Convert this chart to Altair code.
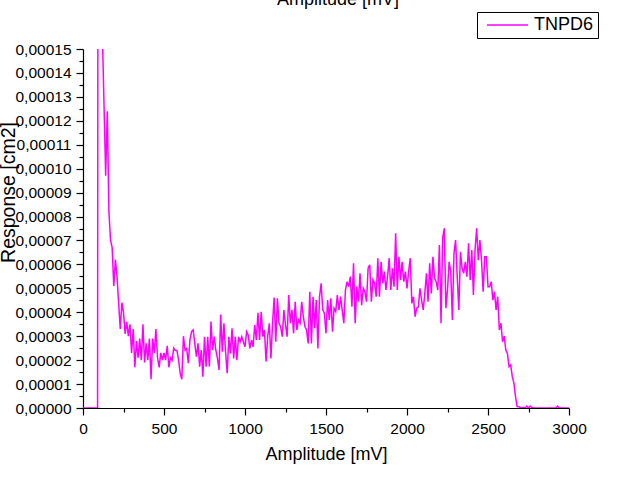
import altair as alt
import pandas as pd

series_name = "TNPD6"
top_title = "Amplitude [mV]"

# Response in units of 1e-5 cm2, sampled every 10 mV from 0 to 3000 mV
response_e5 = [
    0, 0, 0, 0, 0, 0, 0, 0, 0, 0,
    90, 30, 15.5, 12.6, 9.7, 12.4, 8.2, 7.0, 6.7, 5.1,
    6.2, 5.5, 4.4, 3.3, 4.4, 4.0, 3.1, 3.6, 3.0, 3.5,
    2.3, 3.3, 1.7, 2.8, 2.1, 2.9, 2.0, 3.5, 1.9, 2.7,
    2.0, 2.9, 1.2, 2.9, 2.3, 3.3, 2.1, 1.7, 2.3, 2.0,
    2.3, 2.0, 2.6, 1.7, 2.1, 2.0, 2.5, 2.4, 2.4, 2.0,
    1.45, 1.2, 3.0, 2.42, 2.49, 1.87, 2.84, 3.19, 3.26, 2.70,
    2.14, 2.70, 1.73, 2.42, 1.31, 2.98, 1.73, 2.98, 1.73, 3.61,
    2.42, 2.98, 2.42, 2.07, 1.59, 3.91, 2.35, 3.54, 2.35, 1.45,
    2.98, 2.28, 3.33, 2.07, 2.98, 2.0, 2.98, 2.77, 2.98, 2.77,
    2.56, 3.19, 3.05, 2.49, 2.84, 2.56, 3.47, 2.84, 3.98, 2.84,
    4.02, 2.98, 3.26, 1.94, 2.98, 3.54, 2.07, 3.54, 4.62, 2.77,
    4.58, 3.54, 3.40, 2.98, 4.09, 3.47, 2.98, 4.72, 3.54, 4.10,
    3.12, 4.44, 3.26, 3.68, 3.54, 4.44, 3.82, 3.40, 3.26, 2.70,
    4.86, 2.70, 4.65, 3.33, 4.51, 2.49, 4.65, 5.21, 4.10, 3.96,
    3.12, 4.51, 3.68, 4.58, 3.19, 4.17, 4.03, 4.72, 4.10, 4.65,
    4.10, 3.54, 4.93, 5.28, 5.07, 5.49, 4.23, 6.05, 3.54, 5.07,
    4.44, 5.63, 4.30, 5.0, 4.86, 4.44, 5.84, 5.98, 4.44, 5.35,
    5.21, 4.65, 6.26, 4.65, 6.11, 5.21, 5.70, 4.93, 5.49, 6.26,
    4.93, 5.84, 5.07, 7.30, 4.93, 6.32, 5.35, 6.11, 5.28, 5.70,
    5.0, 5.70, 6.26, 4.37, 4.65, 3.82, 4.17, 4.23, 5.0, 4.51,
    4.10, 4.79, 5.63, 4.44, 6.05, 4.79, 6.32, 5.42, 5.28, 4.93,
    6.81, 3.54, 7.09, 7.51, 4.17, 4.93, 6.11, 5.70, 3.68, 6.46,
    7.02, 5.49, 4.10, 6.53, 5.84, 5.63, 6.11, 5.49, 6.88, 5.35,
    6.60, 4.72, 6.60, 7.51, 6.18, 7.02, 6.18, 4.86, 6.32, 6.32,
    5.07, 5.07, 5.28, 4.51, 4.86, 4.10, 4.65, 3.26, 3.54, 2.77,
    3.0, 2.42, 2.28, 1.73, 1.8, 1.31, 1.04, 0.47, 0.06, 0.05,
    0.02, 0, 0.03, 0, 0.08, 0, 0.08, 0.02, 0, 0,
    0, 0, 0, 0, 0, 0, 0, 0, 0, 0,
    0, 0, 0, 0.08, 0, 0, 0, 0, 0, 0,
    0,
]
amplitude_mv = [10 * i for i in range(len(response_e5))]

x_tick_values = list(range(0, 3001, 250))
y_tick_values = [i * 5 / 1e6 for i in range(31)]

df = pd.DataFrame({
    "Amplitude": amplitude_mv,
    "Response": [v / 1e5 for v in response_e5],
    "series": series_name,
})

FONT = "Liberation Sans"

x_axis = alt.Axis(
    title="Amplitude [mV]",
    values=x_tick_values,
    format="d",
    labelExpr="datum.value % 500 == 0 ? datum.label : ''",
    tickSize={"condition": {"test": "datum.value % 500 == 0", "value": 7}, "value": 4},
    labelFont=FONT, labelFontSize=15.5, labelColor="black", labelPadding=6,
    labelOverlap=False, labelFlush=False,
    titleFont=FONT, titleFontSize=18, titleFontWeight="normal", titleColor="black",
    titleX=243, titleY=51, titleBaseline="alphabetic", titleAlign="center",
    domainColor="black", domainWidth=1.2, tickColor="black", tickWidth=1.2,
    grid=False,
)

y_axis = alt.Axis(
    title="Response [cm2]",
    values=y_tick_values,
    labelExpr="round(datum.value * 1e6) % 10 == 0 ? replace(format(datum.value, '.5f'), '.', ',') : ''",
    tickSize={"condition": {"test": "round(datum.value * 1e6) % 10 == 0", "value": 7}, "value": 4},
    labelFont=FONT, labelFontSize=15.5, labelColor="black", labelPadding=5,
    labelOverlap=False, labelFlush=False,
    titleFont=FONT, titleFontSize=19.5, titleFontWeight="normal", titleColor="black",
    titleAngle=270, titleX=-75, titleY=143, titleAlign="center", titleBaseline="middle",
    domainColor="black", domainWidth=1.2, tickColor="black", tickWidth=1.2,
    grid=False,
)

base = alt.Chart(df)

line = base.mark_line(clip=True, strokeWidth=1.5).encode(
    x=alt.X("Amplitude:Q", scale=alt.Scale(domain=[0, 3000], nice=False, zero=False), axis=x_axis),
    y=alt.Y("Response:Q", scale=alt.Scale(domain=[0, 0.00015], nice=False), axis=y_axis),
    color=alt.Color(
        "series:N",
        scale=alt.Scale(domain=[series_name], range=["#ff00ff"]),
        legend=alt.Legend(
            title=None, orient="none", legendX=394, legendY=-37,
            strokeColor="black", fillColor="white", padding=4,
            symbolType="stroke", symbolSize=1681, symbolStrokeWidth=1.5,
            symbolOffset=5, labelOffset=5, clipHeight=18,
            labelFont=FONT, labelFontSize=18, labelColor="black",
        ),
    ),
)

# Heading text above the plot (partly cut by the page top, as in the original)
heading = alt.Chart(pd.DataFrame({"t": [top_title]})).mark_text(
    font=FONT, fontSize=18, color="black", align="center", baseline="alphabetic", clip=False,
).encode(
    text="t:N",
    x=alt.value(255),
    y=alt.value(-44),
)

chart = alt.layer(line, heading).properties(
    width=486,
    height=359,
    autosize=alt.AutoSizeParams(type="none"),
    padding={"left": 83, "top": 49, "right": 50, "bottom": 69},
    background="white",
).configure_view(stroke=None)

chart.save("out.html", embed_options={"renderer": "svg", "actions": False})
